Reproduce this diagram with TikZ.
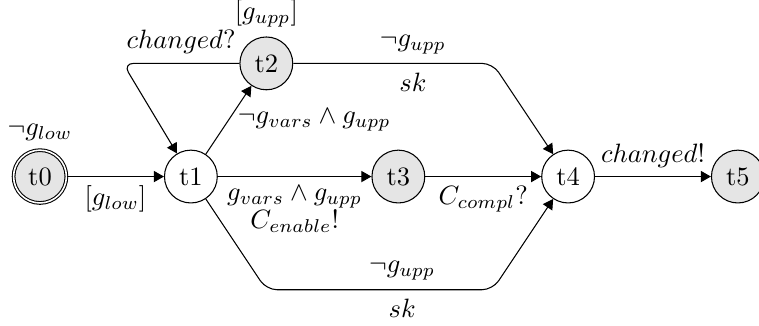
\documentclass[tikz,border=0pt]{standalone}
\usetikzlibrary{arrows.meta}
\begin{document}
\begin{tikzpicture}[>={Triangle[length=3.8pt,width=4.2pt]}, loc/.style={draw,circle,minimum size=0.7cm,inner sep=0pt}, shaded/.style={loc,fill=gray!20}]
\useasboundingbox (-0.53,-1.98) rectangle (9.53,2.34);
\node[shaded,double,label=above:{$\neg g_{low}$}] (t0) at (0,0) {t0};
\node[loc] (t1) at (2,0) {t1};
\node[shaded,label=above:{$[g_{upp}]$}] (t2) at (3,1.5) {t2};
\node[shaded] (t3) at (4.75,0) {t3};
\node[loc] (t4) at (7,0) {t4};
\node[shaded] (t5) at (9.25,0) {t5};
\coordinate (c1) at (1.1,1.5); \coordinate (c2) at (6,1.5); \coordinate (c3) at (3,-1.5); \coordinate (c4) at (6,-1.5);
\draw[->] (t0) -- node[below] {$[g_{low}]$} (t1);
\draw[->] (t1) -- node[right] {$\neg g_{vars} \wedge g_{upp}$} (t2);
\draw[->,rounded corners] (t2) -- node[above] {$changed?$} (c1) -- (t1);
\draw[->,rounded corners] (t2) -- node[pos=0.6,above] {$\neg g_{upp}$} node[pos=0.6,below] {$sk$} (c2) -- (t4);
\draw[->] (t1) -- node[below,align=center] {$g_{vars} \wedge g_{upp}$\\[-1.5pt]$C_{enable}!$} (t3);
\draw[->] (t3) -- node[below] {$C_{compl}?$} (t4);
\draw[->,rounded corners] (t1) -- (c3) -- node[pos=0.6,above] {$\neg g_{upp}$} node[pos=0.6,below] {$sk$} (c4) -- (t4);
\draw[->] (t4) -- node[above] {$changed!$} (t5);
\end{tikzpicture}
\end{document}
